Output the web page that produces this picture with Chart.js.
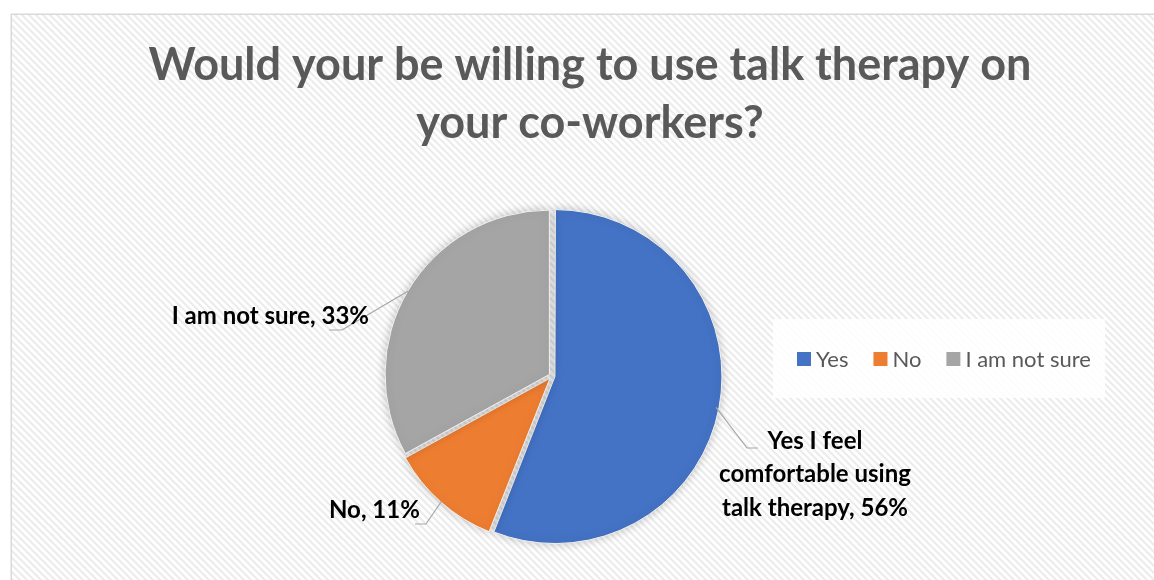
<!DOCTYPE html>
<html>
<head>
<meta charset="utf-8">
<script src="https://cdn.jsdelivr.net/npm/chart.js@4.4.0/dist/chart.umd.min.js"></script>
<style>
  html, body { margin: 0; padding: 0; background: #ffffff; }
  #wrap { width: 1154px; height: 580px; position: relative; }
</style>
</head>
<body>
<div id="wrap"><canvas id="c" width="1154" height="580"></canvas></div>
<script>
// Survey question and answers
const titleLines = ['Would your be willing to use talk therapy on', 'your co-workers?'];
const categories = ['Yes', 'No', 'I am not sure'];
const shares = [56, 11, 33];
const sliceColors = ['#4472C4', '#ED7D31', '#A5A5A5'];
// Text used by the data labels (value is appended to the last line)
const labelLines = [
  ['Yes I feel', 'comfortable using', 'talk therapy'],
  ['No'],
  ['I am not sure']
];

const TITLE_FONT = 'bold 45px Lato';
const LABEL_FONT = 'bold 24px Lato';
const LEGEND_FONT = '22px Lato';

// Diagonal hatch used for the chart area fill
function makeHatch() {
  const s = 7;
  const pc = document.createElement('canvas');
  pc.width = s; pc.height = s;
  const p = pc.getContext('2d');
  p.fillStyle = '#ffffff';
  p.fillRect(0, 0, s, s);
  p.strokeStyle = '#ececec';
  p.lineWidth = 2.2;
  p.beginPath();
  for (let k = -1; k <= 1; k++) {
    p.moveTo(k * s - 1, -1);
    p.lineTo(k * s + s + 1, s + 1);
  }
  p.stroke();
  return p.createPattern(pc, 'repeat');
}

const framePlugin = {
  id: 'frame',
  beforeDraw(chart) {
    const ctx = chart.ctx;
    ctx.save();
    ctx.fillStyle = '#ffffff';
    ctx.fillRect(0, 0, chart.width, chart.height);
    ctx.fillStyle = makeHatch();
    ctx.fillRect(12, 15, chart.width, chart.height);
    ctx.strokeStyle = '#d9d9d9';
    ctx.lineWidth = 1.5;
    ctx.strokeRect(11.25, 14.25, chart.width + 20, chart.height + 20);

    // title
    ctx.fillStyle = '#595959';
    ctx.font = TITLE_FONT;
    ctx.textAlign = 'center';
    ctx.textBaseline = 'alphabetic';
    ctx.fillText(titleLines[0], 590, 80);
    ctx.fillText(titleLines[1], 590, 138);

    // legend
    ctx.fillStyle = 'rgba(255,255,255,0.85)';
    ctx.fillRect(773, 319, 332, 79);
    ctx.font = LEGEND_FONT;
    ctx.textAlign = 'left';
    ctx.textBaseline = 'middle';
    let x = 797;
    const y = 359;
    categories.forEach((name, i) => {
      ctx.fillStyle = sliceColors[i];
      ctx.fillRect(x, y - 7, 14, 14);
      ctx.fillStyle = '#595959';
      ctx.fillText(name, x + 19, y + 1);
      x += 19 + ctx.measureText(name).width + 25;
    });
    ctx.restore();
  },
  beforeDatasetsDraw(chart) {
    const ctx = chart.ctx;
    ctx.save();
    ctx.shadowColor = 'rgba(0,0,0,0.22)';
    ctx.shadowBlur = 10;
  },
  afterDatasetsDraw(chart) {
    const ctx = chart.ctx;
    ctx.restore();

    // data labels with leader lines
    const meta = chart.getDatasetMeta(0);
    // elbow point, end of horizontal run, text anchor, alignment, line step
    const layout = [
      { elbow: [747, 448], end: 758, tx: 815, ty: 441, align: 'center', step: 33.5 },
      { elbow: [426, 524], end: 415, tx: 329, ty: 510, align: 'left', step: 0 },
      { elbow: [342, 330], end: 329, tx: 369, ty: 316, align: 'right', step: 0 }
    ];
    ctx.save();
    meta.data.forEach((arc, i) => {
      const p = arc.getProps(['x', 'y', 'startAngle', 'endAngle', 'outerRadius'], true);
      const mid = (p.startAngle + p.endAngle) / 2;
      const off = (arc.options.offset || 0) / 4;
      const r = p.outerRadius + off;
      const sx = p.x + Math.cos(mid) * r;
      const sy = p.y + Math.sin(mid) * r;
      const L = layout[i];
      ctx.strokeStyle = '#a6a6a6';
      ctx.lineWidth = 1.2;
      ctx.beginPath();
      ctx.moveTo(sx, sy);
      ctx.lineTo(L.elbow[0], L.elbow[1]);
      ctx.lineTo(L.end, L.elbow[1]);
      ctx.stroke();

      const lines = labelLines[i].slice();
      lines[lines.length - 1] += ', ' + shares[i] + '%';
      ctx.font = LABEL_FONT;
      ctx.fillStyle = '#000000';
      ctx.textAlign = L.align;
      ctx.textBaseline = 'middle';
      lines.forEach((t, j) => ctx.fillText(t, L.tx, L.ty + j * L.step));
    });
    ctx.restore();
  }
};

new Chart(document.getElementById('c'), {
  type: 'pie',
  data: {
    labels: categories,
    datasets: [{
      data: shares,
      backgroundColor: sliceColors,
      borderColor: '#f2f2f2',
      borderWidth: 1,
      offset: 12
    }]
  },
  options: {
    responsive: false,
    animation: false,
    devicePixelRatio: 1,
    layout: { padding: { left: 381.5, right: 431.5, top: 205.5, bottom: 33.5 } },
    plugins: {
      legend: { display: false },
      title: { display: false },
      tooltip: { enabled: false }
    }
  },
  plugins: [framePlugin]
});
</script>
</body>
</html>
